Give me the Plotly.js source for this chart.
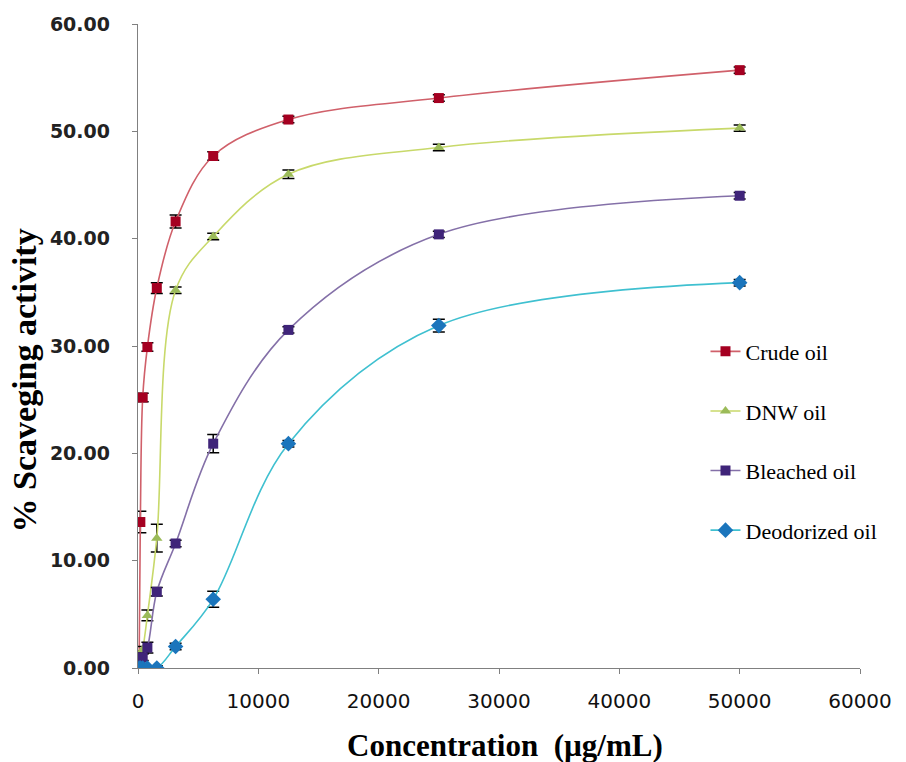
<!DOCTYPE html>
<html>
<head>
<meta charset="utf-8">
<script src="https://cdn.plot.ly/plotly-3.0.1.min.js"></script>
<style>html,body{margin:0;padding:0;background:#fff;}#chart{width:906px;height:762px;}</style>
</head>
<body>
<div id="chart"></div>
<script>
const concentration = [97.66, 195.3, 390.6, 781.25, 1562.5, 3125, 6250, 12500, 25000, 50000];
const seriesNames = ["Crude oil", "DNW oil", "Bleached oil", "Deodorized oil"];
const crudeOil = [1.2, 13.6, 25.2, 29.9, 35.4, 41.6, 47.7, 51.1, 53.1, 55.7];
const crudeErr = [0.3, 1.0, 0.4, 0.4, 0.5, 0.6, 0.4, 0.3, 0.3, 0.3];
const dnwOil = [0.4, 0.8, 1.7, 4.9, 12.1, 35.2, 40.2, 46.0, 48.5, 50.3];
const dnwErr = [0.3, 0.5, 0.3, 0.5, 1.3, 0.3, 0.3, 0.4, 0.3, 0.3];
const bleachedOil = [0.2, 0.5, 1.0, 1.9, 7.1, 11.6, 20.9, 31.5, 40.4, 44.0];
const bleachedErr = [0.2, 0.3, 0.3, 0.5, 0.4, 0.3, 0.85, 0.3, 0.3, 0.3];
const deodorizedOil = [0.0, 0.0, 0.0, 0.0, 0.0, 2.0, 6.4, 20.9, 31.9, 35.9];
const deodorizedErr = [0.2, 0.2, 0.2, 0.2, 0.2, 0.3, 0.75, 0.3, 0.6, 0.3];
const xTickVals = [0, 10000, 20000, 30000, 40000, 50000, 60000];
const yTickVals = [0, 10, 20, 30, 40, 50, 60];
const xTitle = "Concentration  (µg/mL)";
const yTitle = "% Scaveging activity";

const styles = [
  {line: "#D0606A", marker: "#A50021", symbol: "square"},
  {line: "#C8D96A", marker: "#9BBB59", symbol: "triangle-up"},
  {line: "#8470A8", marker: "#3F2479", symbol: "square"},
  {line: "#3FC0D0", marker: "#1B75BC", symbol: "diamond"}
];
const ys = [crudeOil, dnwOil, bleachedOil, deodorizedOil];
const errs = [crudeErr, dnwErr, bleachedErr, deodorizedErr];

const traces = ys.map((y, i) => ({
  x: concentration, y: y, name: seriesNames[i], type: "scatter", mode: "lines+markers",
  legendgroup: "g" + i,
  line: {color: styles[i].line, width: 1.6, shape: "spline", smoothing: 1},
  marker: {color: styles[i].marker, symbol: styles[i].symbol, size: i === 3 ? 12 : 10},
  error_y: {type: "data", array: errs[i], visible: true, color: "#000", thickness: 1.5, width: 6}
}));

const layout = {
  width: 906, height: 762,
  margin: {l: 138, r: 46, t: 24, b: 94},
  paper_bgcolor: "#fff", plot_bgcolor: "#fff",
  showlegend: true,
  legend: {x: 0.786, y: 0.524, xanchor: "left", yanchor: "top", tracegroupgap: 28,
           font: {family: "Liberation Serif", size: 22, color: "#000"}, bgcolor: "rgba(0,0,0,0)"},
  xaxis: {range: [0, 60000], tickvals: xTickVals, ticktext: xTickVals.map(String),
          showgrid: false, zeroline: false, showline: true, linecolor: "#808080", linewidth: 1.2,
          ticks: "outside", ticklen: 5, tickcolor: "#808080", ticklabelstandoff: 10,
          tickfont: {family: "DejaVu Sans", size: 20, color: "#111"}},
  yaxis: {range: [0, 60], tickvals: yTickVals, ticktext: yTickVals.map(v => v.toFixed(2)),
          showgrid: false, zeroline: false, showline: true, linecolor: "#808080", linewidth: 1.2,
          ticks: "outside", ticklen: 5, tickcolor: "#808080", ticklabelstandoff: 18,
          tickfont: {family: "DejaVu Sans", size: 19, color: "#222", weight: "bold"}},
  annotations: [
    {text: xTitle, xref: "paper", yref: "paper", x: 0.508, y: -0.12, xanchor: "center", yanchor: "middle",
     showarrow: false, font: {family: "Liberation Serif", size: 31, color: "#000", weight: "bold"}},
    {text: yTitle, xref: "paper", yref: "paper", x: -0.157, y: 0.446, xanchor: "center", yanchor: "middle",
     textangle: -90, showarrow: false, font: {family: "Liberation Serif", size: 34, color: "#000", weight: "bold"}}
  ]
};

Plotly.newPlot("chart", traces, layout, {displayModeBar: false, staticPlot: true});
</script>
</body>
</html>
